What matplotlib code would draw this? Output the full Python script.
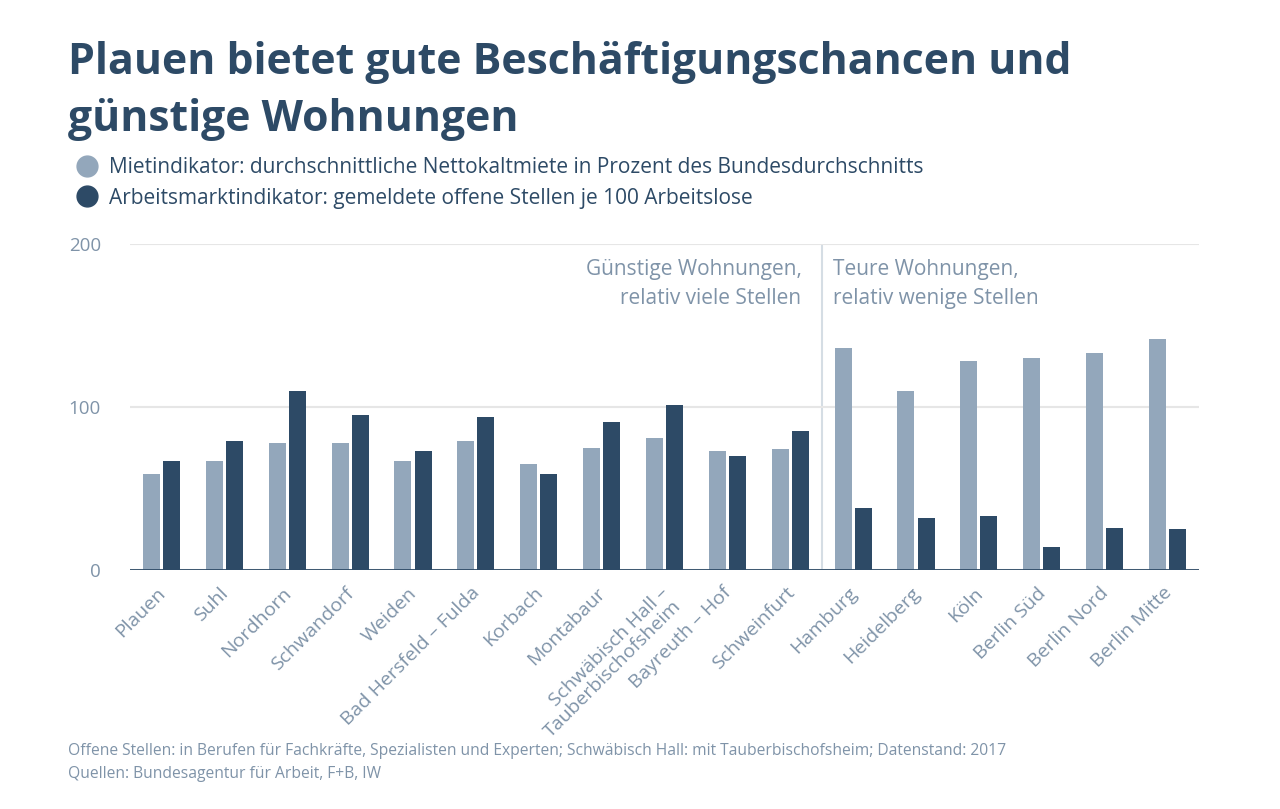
import numpy as np
import matplotlib.pyplot as plt
import matplotlib.transforms as mtransforms
from matplotlib.lines import Line2D

regions = ['Plauen', 'Suhl', 'Nordhorn', 'Schwandorf', 'Weiden', 'Bad Hersfeld – Fulda',
           'Korbach', 'Montabaur', 'Schwäbisch Hall –\nTauberbischofsheim', 'Bayreuth – Hof',
           'Schweinfurt', 'Hamburg', 'Heidelberg', 'Köln', 'Berlin Süd', 'Berlin Nord', 'Berlin Mitte']
miete = [59, 67, 78, 78, 67, 79, 65, 75, 81, 73, 74, 136, 110, 128, 130, 133, 142]
arbeit = [67, 79, 110, 95, 73, 94, 59, 91, 101, 70, 85, 38, 32, 33, 14, 26, 25]
yticks = [0, 100, 200]

light = '#93a7bb'
dark = '#2d4a66'
grey = '#7f93a8'
font = 'Open Sans'

fig = plt.figure(figsize=(12.8, 8.09), dpi=100)
W, H = 1280, 809
ax = fig.add_axes([130 / W, (H - 570) / H, (1199 - 130) / W, (570 - 244) / H])

x = np.arange(len(regions))
bw = 0.27
ax.bar(x - 0.16, miete, bw, color=light, zorder=2)
ax.bar(x + 0.16, arbeit, bw, color=dark, zorder=2)

ax.set_xlim(-0.5, len(regions) - 0.5)
ax.set_ylim(0, 200)
ax.set_yticks(yticks)
ax.set_yticklabels([str(v) for v in yticks], fontsize=13.5, color=grey, family=font)
ax.grid(axis='y', color='#e6e6e6', lw=1.5, zorder=0)
ax.axhline(0, color=dark, lw=2, zorder=3)
ax.tick_params(axis='y', length=0, pad=21)
ax.tick_params(axis='x', length=0, pad=10)
for s in ax.spines.values():
    s.set_visible(False)

ax.set_xticks(x)
ax.set_xticklabels(regions, rotation=45, ha='right', va='top', rotation_mode='anchor',
                   fontsize=14, color=grey, family=font, multialignment='right',
                   linespacing=1.0)
# nudge rotated labels a little to the left
shift = mtransforms.ScaledTranslation(-5 / 100, 0, fig.dpi_scale_trans)
for lbl in ax.get_xticklabels():
    lbl.set_transform(lbl.get_transform() + shift)

# separator between groups
ax.axvline(10.5, color='#d5dde4', lw=1.5, zorder=1)
ax.text(10.18, 191, 'Günstige Wohnungen,\nrelativ viele Stellen', ha='right', va='top',
        fontsize=15, color=grey, family=font, linespacing=1.5)
ax.text(10.68, 191, 'Teure Wohnungen,\nrelativ wenige Stellen', ha='left', va='top',
        fontsize=15, color=grey, family=font, linespacing=1.5)

fig.text(68 / W, 1 - 74 / H, 'Plauen bietet gute Beschäftigungschancen und', fontsize=30.8,
         fontweight='bold', color=dark, family=font, va='baseline')
fig.text(68 / W, 1 - 131 / H, 'günstige Wohnungen', fontsize=30.8,
         fontweight='bold', color=dark, family=font, va='baseline')

handles = [Line2D([], [], ls='', marker='o', ms=15, color=light),
           Line2D([], [], ls='', marker='o', ms=15, color=dark)]
labels = ['Mietindikator: durchschnittliche Nettokaltmiete in Prozent des Bundesdurchschnitts',
          'Arbeitsmarktindikator: gemeldete offene Stellen je 100 Arbeitslose']
fig.legend(handles, labels, loc='upper left', bbox_to_anchor=(64 / W, 1 - 147 / H),
           frameon=False, handletextpad=0.45, labelspacing=0.45, borderpad=0,
           prop={'family': font, 'size': 15}, labelcolor=dark, handlelength=1.2)

fig.text(68 / W, 1 - 755 / H, 'Offene Stellen: in Berufen für Fachkräfte, Spezialisten und Experten; '
         'Schwäbisch Hall: mit Tauberbischofsheim; Datenstand: 2017',
         fontsize=11.25, color=grey, family=font, va='baseline')
fig.text(68 / W, 1 - 778 / H, 'Quellen: Bundesagentur für Arbeit, F+B, IW',
         fontsize=11.25, color=grey, family=font, va='baseline')

fig.savefig('out.png', dpi=100)
